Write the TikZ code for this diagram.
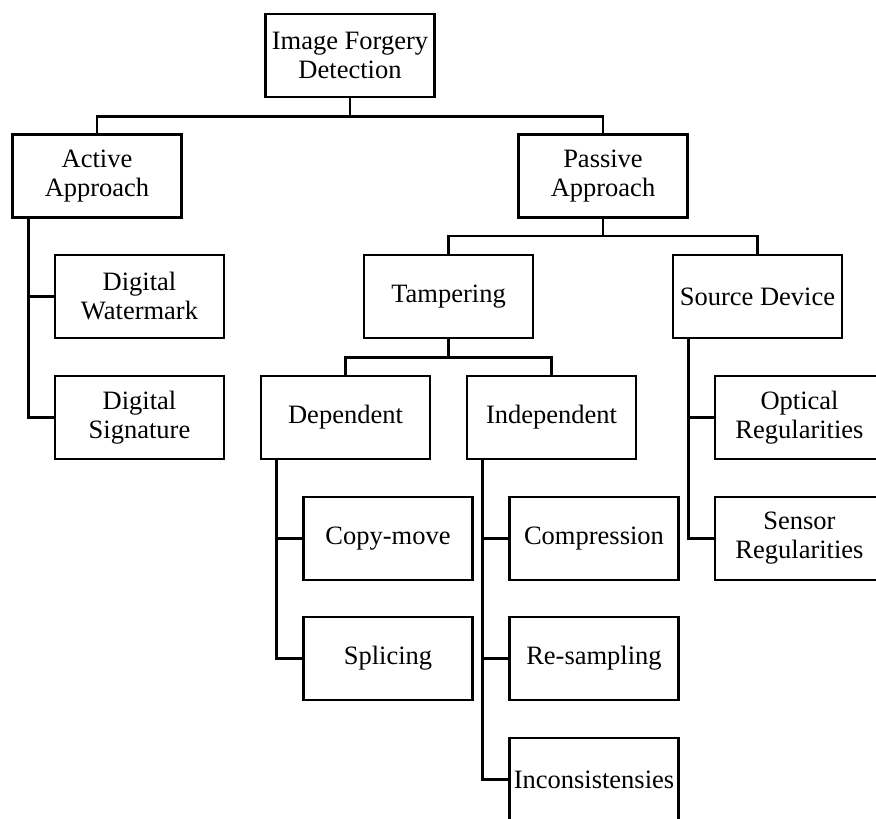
\documentclass[tikz,border=0pt]{standalone}
\usepackage{fontspec}
\setmainfont{Liberation Serif}
\begin{document}
\begin{tikzpicture}[x=1pt,y=-1pt,
  box/.style={draw, line width=2.6pt, minimum width=169pt, minimum height=83pt, inner sep=0pt, align=center, font=\fontsize{26.5}{29}\selectfont},
  conn/.style={line width=2.6pt}]
\useasboundingbox (0,0) rectangle (876,819);
\clip (0,0) rectangle (876,819);
\node[box] (root) at (350,55.5) {Image Forgery\\Detection};
\node[box] (active) at (97,176) {Active\\Approach};
\node[box] (passive) at (603,176) {Passive\\Approach};
\node[box] (watermark) at (139.5,296.5) {Digital\\Watermark};
\node[box] (signature) at (139.5,417.5) {Digital\\Signature};
\node[box] (tampering) at (448.5,296.5) {Tampering};
\node[box] (source) at (757.5,296.5) {Source Device};
\node[box] (dependent) at (345.5,417.5) {Dependent};
\node[box] (independent) at (551.5,417.5) {Independent};
\node[box] (optical) at (799.5,417.5) {Optical\\Regularities};
\node[box] (copymove) at (388,538.5) {Copy-move};
\node[box] (splicing) at (388,658.5) {Splicing};
\node[box] (compression) at (594,538.5) {Compression};
\node[box] (resampling) at (594,658.5) {Re-sampling};
\node[box] (inconsist) at (594,779.5) {Inconsistensies};
\node[box] (sensor) at (799.5,538.5) {Sensor\\Regularities};
% connectors
\draw[conn] (root.south) -- ++(0,18) -| (active.north);
\draw[conn] (root.south) -- ++(0,18) -| (passive.north);
\draw[conn] ([xshift=17pt]active.south west) |- (watermark.west);
\draw[conn] ([xshift=17pt]active.south west) |- (signature.west);
\draw[conn] (passive.south) -- ++(0,17) -| (tampering.north);
\draw[conn] (passive.south) -- ++(0,17) -| (source.north);
\draw[conn] (tampering.south) -- ++(0,18) -| (dependent.north);
\draw[conn] (tampering.south) -- ++(0,18) -| (independent.north);
\draw[conn] ([xshift=17pt]dependent.south west) |- (copymove.west);
\draw[conn] ([xshift=17pt]dependent.south west) |- (splicing.west);
\draw[conn] ([xshift=17pt]independent.south west) |- (compression.west);
\draw[conn] ([xshift=17pt]independent.south west) |- (resampling.west);
\draw[conn] ([xshift=17pt]independent.south west) |- (inconsist.west);
\draw[conn] ([xshift=17pt]source.south west) |- (optical.west);
\draw[conn] ([xshift=17pt]source.south west) |- (sensor.west);
\end{tikzpicture}
\end{document}
